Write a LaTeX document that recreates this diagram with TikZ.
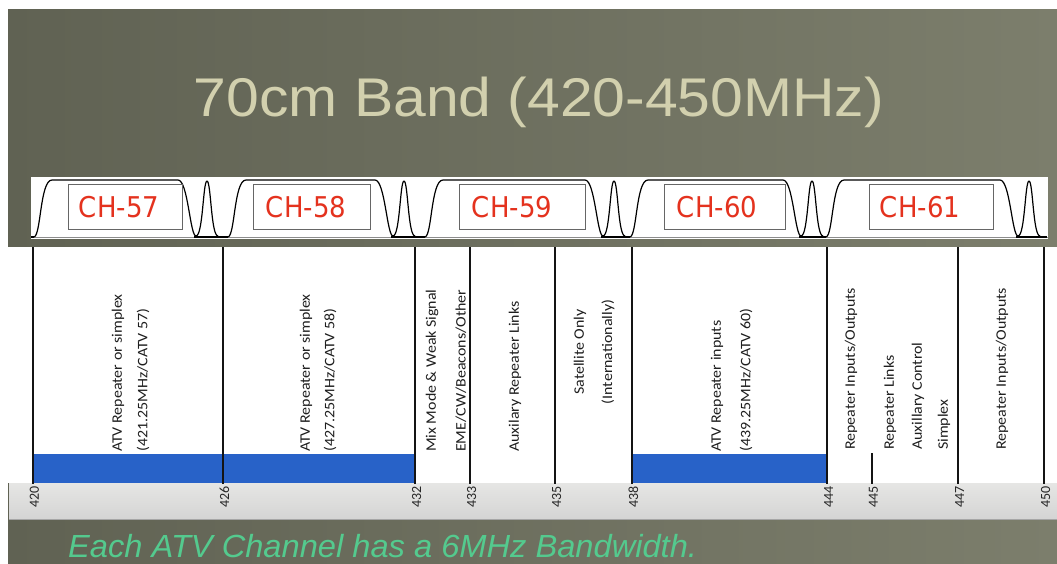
\documentclass[tikz,border=0pt]{standalone}
\usepackage{fontspec}
\setmainfont{Liberation Sans}
\newfontfamily\carlito{Carlito}
\newfontfamily\dejavu{DejaVu Sans}
\definecolor{bgL}{RGB}{96,98,83}
\definecolor{bgR}{RGB}{124,126,108}
\definecolor{titlecol}{RGB}{210,208,174}
\definecolor{chred}{RGB}{228,50,30}
\definecolor{barblue}{RGB}{40,98,200}
\definecolor{capgreen}{RGB}{84,202,142}
\definecolor{axtop}{RGB}{230,230,228}
\definecolor{axbot}{RGB}{212,212,212}
\definecolor{txt}{RGB}{30,30,30}
\tikzset{
  divline/.style={line width=2pt, black!92},
  chframe/.style={draw=black!60, line width=1pt, fill=white, minimum height=44pt, inner sep=0pt},
  chtext/.style={text=chred, font=\dejavu\fontsize{26}{26}\selectfont, inner sep=0pt},
  bandtext/.style={rotate=90, anchor=west, text=txt, font=\carlito\fontsize{14.5}{15}\selectfont, inner sep=0pt},
  bandmid/.style={rotate=90, anchor=center, text=txt, font=\carlito\fontsize{14.5}{15}\selectfont, inner sep=0pt},
  ticktext/.style={rotate=90, anchor=east, text=black!85, font=\carlito\fontsize{14}{14}\selectfont, inner sep=1pt},
  spectrum/.style={line width=1.2pt, black, line join=round},
}
\begin{document}
\begin{tikzpicture}[x=1pt,y=-1pt]
\useasboundingbox (0,0) rectangle (1057,564);
\fill[white] (0,0) rectangle (1057,564);
% background
\shade[left color=bgL, right color=bgR] (8,10) rectangle (1057,564);
% title
\node[text=titlecol, font=\fontsize{54.5}{56}\selectfont, anchor=base, inner sep=0pt] (title) at (539,117) {\scalebox{1.08}[1]{70cm Band (420-450MHz)}};
% channel strip
\fill[white] (31,177) rectangle (1048,239);
\draw[black!45, line width=0.8pt] (31,237) -- (1048,237);
\foreach \s/\e in {34/218,228/415,425/625,630/823,826/1040}{
  \draw[spectrum] (\s,237) .. controls (\s+7,236) and (\s+6,180) .. (\s+18,180) -- (\e-40,180)
    .. controls (\e-30,180) and (\e-28,236) .. (\e-22,236)
    .. controls (\e-15,236) and (\e-15,181) .. (\e-11,181)
    .. controls (\e-7,181) and (\e-7,236) .. (\e,236);
}
\foreach \a/\b in {31/34,194/228,391/425,601/630,799/826,1016/1047}{
  \draw[spectrum] (\a,237) -- (\b,237);
}
\node[chframe, minimum width=114pt] (box57) at (125,207) {};
\node[chframe, minimum width=117pt] (box58) at (311.5,207) {};
\node[chframe, minimum width=126pt] (box59) at (522,207) {};
\node[chframe, minimum width=121pt] (box60) at (724.5,207) {};
\node[chframe, minimum width=124pt] (box61) at (931.5,207) {};
\node[chtext] (ch57) at (119,207) {\scalebox{1}[1.1]{CH-57}};
\node[chtext] (ch58) at (306,207) {\scalebox{1}[1.1]{CH-58}};
\node[chtext] (ch59) at (512,207) {\scalebox{1}[1.1]{CH-59}};
\node[chtext] (ch60) at (717,207) {\scalebox{1}[1.1]{CH-60}};
\node[chtext] (ch61) at (920,207) {\scalebox{1}[1.1]{CH-61}};
% chart area
\fill[white] (8,247) rectangle (1057,483);
\shade[top color=axtop, bottom color=axbot] (9,483) rectangle (1057,519);
\draw[black!35, line width=0.6pt] (9,519) -- (1057,519);
\fill[barblue] (33,454) rectangle (415,483);
\fill[barblue] (632,454) rectangle (827,483);
% division lines
\foreach \x/\lab in {33/420,223/426,415/432,470/433,555/435,632/438,827/444,958/447,1044/450}{
  \draw[divline] (\x,247) -- (\x,484);
  \node[ticktext] (t\lab) at (\x+1.5,485) {\lab};
}
\draw[divline] (872,453) -- (872,484);
\node[ticktext] (t445) at (873.5,485) {445};
% band labels
\node[bandtext] (a1) at (118,452) {\scalebox{1.1}[1]{ATV Repeater or simplex}};
\node[bandtext] (a2) at (143,452) {\scalebox{1.1}[1]{(421.25MHz/CATV 57)}};
\node[bandtext] (b1) at (306,452) {\scalebox{1.1}[1]{ATV Repeater or simplex}};
\node[bandtext] (b2) at (330,452) {\scalebox{1.1}[1]{(427.25MHz/CATV 58)}};
\node[bandtext] (c1) at (432,452) {\scalebox{1.1}[1]{Mix Mode \& Weak Signal}};
\node[bandtext] (c2) at (461,452) {\scalebox{1.1}[1]{EME/CW/Beacons/Other}};
\node[bandtext] (d1) at (515,452) {\scalebox{1.1}[1]{Auxilary Repeater Links}};
\node[bandmid] (e1) at (580,352) {\scalebox{1.1}[1]{Satellite Only}};
\node[bandmid] (e2) at (608,352) {\scalebox{1.1}[1]{(Internationally)}};
\node[bandtext] (f1) at (717,452) {\scalebox{1.1}[1]{ATV Repeater inputs}};
\node[bandtext] (f2) at (746,452) {\scalebox{1.1}[1]{(439.25MHz/CATV 60)}};
\node[bandtext] (g1) at (851,450) {\scalebox{1.1}[1]{Repeater Inputs/Outputs}};
\node[bandtext] (g2) at (890,450) {\scalebox{1.1}[1]{Repeater Links}};
\node[bandtext] (g3) at (918,450) {\scalebox{1.1}[1]{Auxillary Control}};
\node[bandtext] (g4) at (944,450) {\scalebox{1.1}[1]{Simplex}};
\node[bandtext] (h1) at (1002,450) {\scalebox{1.1}[1]{Repeater Inputs/Outputs}};
% caption
\node[text=capgreen, font=\itshape\fontsize{32}{33}\selectfont, anchor=base west, inner sep=0pt] (caption) at (68,557) {\scalebox{1.02}[1]{Each ATV Channel has a 6MHz Bandwidth.}};
\end{tikzpicture}
\end{document}
